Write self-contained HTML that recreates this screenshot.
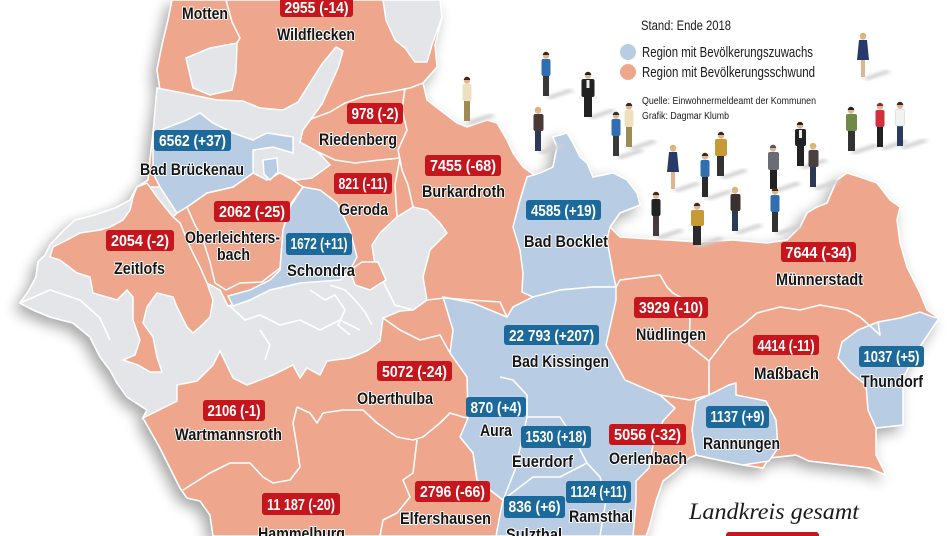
<!DOCTYPE html>
<html><head><meta charset="utf-8"><style>
html,body{margin:0;padding:0;background:#fff;}
svg{display:block;}
.n{font-family:"Liberation Sans Narrow","Liberation Sans",sans-serif;font-size:17px;font-weight:bold;fill:#151515;stroke:#fff;stroke-width:2px;paint-order:stroke;stroke-linejoin:round;}
.b{font-family:"Liberation Sans Narrow","Liberation Sans",sans-serif;font-size:15.5px;font-weight:bold;fill:#fff;}
.l{font-family:"Liberation Sans Narrow","Liberation Sans",sans-serif;fill:#1a1a1a;}
.w{fill:none;stroke:#fff;stroke-width:1.6;stroke-linejoin:round;}
</style></head><body>
<svg width="952" height="536" viewBox="0 0 952 536" xmlns="http://www.w3.org/2000/svg">
<defs>
<filter id="sh" x="-10%" y="-10%" width="120%" height="120%">
<feGaussianBlur in="SourceAlpha" stdDeviation="7"/>
<feOffset dx="-5" dy="6" result="o"/>
<feComponentTransfer><feFuncA type="linear" slope="0.35"/></feComponentTransfer>
<feMerge><feMergeNode/><feMergeNode in="SourceGraphic"/></feMerge>
</filter>
<filter id="bl"><feGaussianBlur stdDeviation="1.5"/></filter>
</defs>
<rect width="952" height="536" fill="#fff"/>

<path filter="url(#sh)" fill="#eea78d" stroke="#fff" stroke-width="1.5" d="M172,0 L440,0 L442,17 L435,45 L437,67 L423,83 L427,100 L440,110 L457,123 L467,127 L487,120 L497,123 L507,140 L513,153 L523,167 L537,177 L553,167 L557,147 L553,137 L567,133 L573,143 L580,157 L587,163 L593,177 L613,173 L627,180 L637,193 L640,205 L620,213 L610,227 L620,237 L667,240 L700,242 L733,240 L767,243 L787,240 L800,227 L807,213 L817,207 L827,203 L837,180 L847,173 L860,177 L877,183 L890,200 L900,207 L897,220 L900,243 L907,267 L920,293 L927,310 L939,318 L919,348 L903,378 L903,425 L876,428 L876,455 L886,475 L869,468 L843,465 L809,461 L796,455 L769,458 L763,468 L743,465 L709,458 L696,455 L689,458 L676,471 L663,481 L656,501 L649,528 L646,536 L213,536 L210,515 L200,501 L187,498 L180,488 L170,468 L160,448 L143,418 L147,410 L127,397 L117,383 L110,370 L100,357 L90,337 L73,323 L50,317 L33,310 L20,303 L28,292 L36,277 L38,262 L45,255 L50,245 L62,232 L75,220 L95,215 L115,208 L130,200 L137,187 L148,180 L150,160 L153,133 L157,110 L160,90 L157,70 L162,45 L168,20 Z"/>

<g fill="#e3e5e9" stroke="#fff" stroke-width="1.5">
<path d="M383,0 L440,0 L442,17 L432,45 L427,62 L415,62 L405,48 L395,40 L386,20 Z"/>
<path d="M193,88 L186,58 L210,48 L237,43 L236,72 L232,90 L210,95 Z"/>
<path d="M157,88 L183,93 L217,100 L243,101 L260,108 L283,110 L298,102 L308,86 L322,64 L336,47 L343,51 L338,68 L330,86 L322,104 L311,119 L303,130 L300,142 L318,152 L330,165 L312,178 L296,180 L280,173 L267,180 L253,173 L253,150 L273,147 L293,153 L293,137 L267,133 L253,140 L233,133 L213,123 L200,113 L187,120 L153,133 L155,110 Z"/>
<path d="M153,187 L137,187 L130,200 L115,208 L95,215 L75,220 L62,232 L50,245 L45,255 L38,262 L36,277 L28,292 L20,303 L33,310 L50,317 L73,323 L90,337 L100,357 L110,370 L117,383 L127,397 L147,410 L143,418 L177,401 L177,385 L197,381 L213,365 L220,351 L233,378 L247,385 L273,375 L293,365 L300,378 L307,368 L320,375 L327,361 L350,358 L367,351 L380,341 L383,318 L400,311 L413,310 L395,305 L385,285 L375,265 L360,265 L350,272 L335,278 L300,283 L270,290 L250,300 L228,306 L220,290 L207,283 L190,247 L180,223 L173,217 L177,213 L160,187 Z"/>
<path d="M380,233 L397,217 L413,207 L427,210 L440,223 L447,233 L430,250 L423,277 L427,300 L413,310 L395,305 L385,285 L375,265 L372,245 Z"/>
</g>

<g fill="#eea78d" stroke="#fff" stroke-width="1.5">
<path d="M137,187 L147,183 L157,197 L173,217 L180,223 L190,247 L200,267 L207,283 L213,300 L210,317 L200,327 L193,333 L187,327 L177,307 L173,297 L157,293 L147,307 L143,323 L153,337 L157,357 L162,372 L150,372 L138,365 L123,360 L135,355 L140,340 L133,320 L133,297 L127,290 L117,300 L93,293 L90,277 L77,273 L60,260 L50,257 L53,247 L67,240 L80,233 L100,230 L110,227 L123,220 L130,210 L133,197 Z"/>
<path d="M187,207 L207,193 L233,187 L253,173 L267,180 L280,173 L293,180 L303,187 L290,205 L283,230 L280,268 L262,282 L240,283 L226,290 L215,283 L210,262 L203,240 L195,225 Z"/>
<path d="M350,270 L362,262 L378,262 L386,280 L370,290 L355,285 Z"/>
</g>

<g fill="#b8cce3" stroke="#fff" stroke-width="1.5">
<path d="M153,133 L187,120 L200,113 L213,123 L233,133 L253,140 L267,133 L293,137 L293,153 L273,147 L253,150 L253,173 L233,187 L207,193 L187,207 L177,213 L160,187 L153,173 Z"/>
<path d="M263,160 L277,158 L278,172 L270,180 L264,174 Z"/>
<path d="M303,187 L320,190 L337,203 L350,230 L357,257 L350,270 L340,280 L300,283 L270,290 L250,300 L233,306 L228,296 L250,290 L270,280 L280,270 L283,230 L290,207 Z"/>
<path d="M527,177 L540,173 L553,167 L557,147 L553,137 L567,133 L573,143 L580,157 L587,163 L593,177 L613,173 L627,180 L637,193 L640,205 L620,213 L610,227 L607,240 L613,273 L616,287 L593,287 L560,290 L533,297 L522,292 L523,273 L520,250 L513,227 L520,200 Z"/>
<path d="M443,297 L473,303 L507,317 L513,307 L533,297 L560,290 L593,287 L616,287 L616,300 L606,345 L625,380 L660,395 L675,408 L663,421 L653,445 L649,468 L636,481 L636,501 L633,536 L496,536 L500,515 L503,500 L477,480 L473,453 L460,437 L468,418 L467,377 L450,353 L453,330 Z"/>
<path d="M709,395 L729,385 L736,383 L736,395 L766,401 L776,420 L778,448 L769,461 L743,465 L709,458 L696,455 L692,430 L696,401 Z"/>
<path d="M939,318 L919,348 L903,378 L903,425 L876,428 L868,410 L866,385 L850,372 L838,358 L842,342 L858,330 L878,322 L900,318 L920,312 L933,317 Z"/>
</g>

<g class="w">
<polyline points="226,0 232,22 240,38 237,43"/>
<polyline points="311,119 330,112 345,103 365,96 390,92 410,88 423,83"/>
<polyline points="405,88 402,110 407,130 398,150 402,170 408,185 413,207"/>
<polyline points="318,152 335,160 355,163 380,160 400,158"/>
<polyline points="400,158 395,185 397,217"/>
<polyline points="427,300 445,298 470,300 500,302 507,317"/>
<polyline points="383,318 400,330 420,340 440,335 450,353"/>
<polyline points="297,407 293,423 297,447 300,467"/>
<polyline points="183,490 210,473 230,463 250,463 263,477 273,483 290,480 300,467"/>
<polyline points="297,407 310,413 317,423 323,413 343,410 363,410 377,423 397,437 413,440 423,437 440,423 450,413 463,417 468,418"/>
<polyline points="417,440 413,473 403,480 410,497 397,513 383,520 380,536"/>
<polyline points="460,437 473,453 477,480 503,500"/>
<polyline points="500,377 513,380 527,395 527,417 522,440 515,470 503,500"/>
<polyline points="527,417 560,417 575,440 587,463 600,477 606,500 600,536"/>
<polyline points="503,500 533,477 560,477 587,463"/>
<polyline points="616,287 620,280 643,277 660,275 667,287 673,293 685,300 690,320 689,345 709,361 709,395"/>
<polyline points="709,361 729,335 743,325 757,313 780,307 800,310 820,305 847,310 860,317 869,325 880,335 878,322"/>
<polyline points="660,395 690,400 709,395"/>
<polyline points="230,306 245,320 260,315 280,325 300,320 320,330 340,320 360,330"/>
<polyline points="20,303 50,290 80,300 100,318 110,340"/>
<polyline points="310,290 325,300 335,295 345,310 338,325 350,335"/>
<polyline points="330,285 345,290 355,300 365,312 372,325"/>
<polyline points="260,330 270,345 265,360"/>
</g>

<text class="l" x="641" y="30" font-size="13.5" textLength="90" lengthAdjust="spacingAndGlyphs">Stand: Ende 2018</text>
<circle cx="628" cy="52" r="8" fill="#b8cce3"/>
<circle cx="628" cy="72" r="8" fill="#eea78d"/>
<text class="l" x="642" y="57" font-size="14.5" textLength="171" lengthAdjust="spacingAndGlyphs">Region mit Bevölkerungszuwachs</text>
<text class="l" x="642" y="77" font-size="14.5" textLength="173" lengthAdjust="spacingAndGlyphs">Region mit Bevölkerungsschwund</text>
<text class="l" x="642" y="104" font-size="10" textLength="174" lengthAdjust="spacingAndGlyphs">Quelle: Einwohnermeldeamt der Kommunen</text>
<text class="l" x="642" y="119" font-size="10" textLength="87" lengthAdjust="spacingAndGlyphs">Grafik: Dagmar Klumb</text>

<g id="people">
<g transform="translate(460,77)"><path d="M6,45 L30,37 L36,39 L12,47 Z" fill="#cfcfcf" filter="url(#bl)"/><rect x="4" y="23" width="6" height="21" fill="#9d8a55"/><rect x="2.5" y="7" width="9" height="17" rx="2" fill="#ece0c0"/><circle cx="7" cy="3.5" r="3.2" fill="#e2b48e"/><path d="M3.8,3 a3.2,3.2 0 0 1 6.4,0z" fill="#3a2a20"/></g>
<g transform="translate(539,52)"><path d="M6,45 L30,37 L36,39 L12,47 Z" fill="#cfcfcf" filter="url(#bl)"/><rect x="4" y="23" width="6" height="21" fill="#383838"/><rect x="2.5" y="7" width="9" height="17" rx="2" fill="#2f6eb0"/><circle cx="7" cy="3.5" r="3.2" fill="#e2b48e"/><path d="M3.8,3 a3.2,3.2 0 0 1 6.4,0z" fill="#3a2a20"/></g>
<g transform="translate(579,72)"><path d="M8,45 L32,37 L38,39 L14,47 Z" fill="#cfcfcf" filter="url(#bl)"/><rect x="5" y="23" width="8" height="22" fill="#222"/><rect x="2.5" y="7" width="13" height="18" rx="2" fill="#222"/><rect x="7.5" y="8" width="3" height="8" fill="#eee"/><circle cx="9" cy="3.5" r="3.2" fill="#e2b48e"/><path d="M5.8,3 a3.2,3.2 0 0 1 6.4,0z" fill="#222"/></g>
<g transform="translate(531,107)"><path d="M6,45 L30,37 L36,39 L12,47 Z" fill="#cfcfcf" filter="url(#bl)"/><rect x="4" y="23" width="6" height="21" fill="#2d3a55"/><rect x="2.5" y="7" width="10" height="17" rx="2" fill="#4a3a35"/><circle cx="7" cy="3.5" r="3.2" fill="#e2b48e"/><path d="M3.8,3 a3.2,3.2 0 0 1 6.4,0z" fill="#d9b56a"/></g>
<g transform="translate(609,112)"><path d="M6,45 L30,37 L36,39 L12,47 Z" fill="#cfcfcf" filter="url(#bl)"/><rect x="4" y="23" width="6" height="21" fill="#3a3a3a"/><rect x="2.5" y="7" width="9" height="17" rx="2" fill="#2f6eb0"/><circle cx="7" cy="3.5" r="3.2" fill="#e2b48e"/><path d="M3.8,3 a3.2,3.2 0 0 1 6.4,0z" fill="#3a2a20"/></g>
<g transform="translate(622,103)"><path d="M6,45 L30,37 L36,39 L12,47 Z" fill="#cfcfcf" filter="url(#bl)"/><rect x="4" y="23" width="6" height="21" fill="#9d8a55"/><rect x="2.5" y="7" width="9" height="17" rx="2" fill="#ece0c0"/><circle cx="7" cy="3.5" r="3.2" fill="#e2b48e"/><path d="M3.8,3 a3.2,3.2 0 0 1 6.4,0z" fill="#3a2a20"/></g>
<g transform="translate(856,33)"><path d="M6,45 L30,37 L36,39 L12,47 Z" fill="#cfcfcf" filter="url(#bl)"/><rect x="5" y="26" width="4" height="18" fill="#e2b48e"/><path d="M3,7 L11,7 L13,27 L1,27 Z" fill="#283a6a"/><circle cx="7" cy="3.5" r="3.2" fill="#e2b48e"/><path d="M3.8,3 a3.2,3.2 0 0 1 6.4,0z" fill="#d9b56a"/></g>
<g transform="translate(844,107)"><path d="M6,45 L30,37 L36,39 L12,47 Z" fill="#cfcfcf" filter="url(#bl)"/><rect x="4" y="23" width="7" height="21" fill="#333"/><rect x="2" y="7" width="11" height="17" rx="2" fill="#6d8b45"/><circle cx="7" cy="3.5" r="3.2" fill="#e2b48e"/><path d="M3.8,3 a3.2,3.2 0 0 1 6.4,0z" fill="#222"/></g>
<g transform="translate(873,103)"><path d="M6,45 L30,37 L36,39 L12,47 Z" fill="#cfcfcf" filter="url(#bl)"/><rect x="4" y="23" width="6" height="21" fill="#222"/><rect x="2.5" y="7" width="9" height="17" rx="2" fill="#d03040"/><circle cx="7" cy="3.5" r="3.2" fill="#e2b48e"/><path d="M3.8,3 a3.2,3.2 0 0 1 6.4,0z" fill="#7a3a20"/></g>
<g transform="translate(893,102)"><path d="M6,45 L30,37 L36,39 L12,47 Z" fill="#cfcfcf" filter="url(#bl)"/><rect x="4" y="23" width="6" height="21" fill="#2c3c60"/><rect x="2.5" y="7" width="9" height="17" rx="2" fill="#f2f2f2" stroke="#ccc" stroke-width=".5"/><circle cx="7" cy="3.5" r="3.2" fill="#e2b48e"/><path d="M3.8,3 a3.2,3.2 0 0 1 6.4,0z" fill="#3a2a20"/></g>
<g transform="translate(666,145)"><path d="M6,45 L30,37 L36,39 L12,47 Z" fill="#cfcfcf" filter="url(#bl)"/><rect x="5" y="26" width="4" height="18" fill="#e2b48e"/><path d="M3,7 L11,7 L13,27 L1,27 Z" fill="#283a6a"/><circle cx="7" cy="3.5" r="3.2" fill="#e2b48e"/><path d="M3.8,3 a3.2,3.2 0 0 1 6.4,0z" fill="#d9b56a"/></g>
<g transform="translate(698,153)"><path d="M6,45 L30,37 L36,39 L12,47 Z" fill="#cfcfcf" filter="url(#bl)"/><rect x="4" y="23" width="6" height="21" fill="#2a2a2a"/><rect x="2.5" y="7" width="9" height="17" rx="2" fill="#2f6eb0"/><circle cx="7" cy="3.5" r="3.2" fill="#e2b48e"/><path d="M3.8,3 a3.2,3.2 0 0 1 6.4,0z" fill="#3a2a20"/></g>
<g transform="translate(713,132)"><path d="M6,45 L30,37 L36,39 L12,47 Z" fill="#cfcfcf" filter="url(#bl)"/><rect x="4" y="23" width="7" height="21" fill="#333"/><rect x="2" y="7" width="12" height="17" rx="2" fill="#c89a35"/><circle cx="8" cy="3.5" r="3.2" fill="#e2b48e"/><path d="M4.8,3 a3.2,3.2 0 0 1 6.4,0z" fill="#3a2a20"/></g>
<g transform="translate(766,145)"><path d="M6,45 L30,37 L36,39 L12,47 Z" fill="#cfcfcf" filter="url(#bl)"/><rect x="4" y="23" width="7" height="21" fill="#222"/><rect x="2" y="7" width="11" height="18" rx="2" fill="#6a6e74"/><circle cx="7" cy="3.5" r="3.2" fill="#e2b48e"/><path d="M3.8,3 a3.2,3.2 0 0 1 6.4,0z" fill="#555"/></g>
<g transform="translate(793,122)"><path d="M6,45 L30,37 L36,39 L12,47 Z" fill="#cfcfcf" filter="url(#bl)"/><rect x="4" y="23" width="7" height="21" fill="#222"/><rect x="2" y="7" width="11" height="17" rx="2" fill="#222"/><rect x="6" y="8" width="3" height="8" fill="#eee"/><circle cx="7" cy="3.5" r="3.2" fill="#e2b48e"/><path d="M3.8,3 a3.2,3.2 0 0 1 6.4,0z" fill="#222"/></g>
<g transform="translate(806,143)"><path d="M6,45 L30,37 L36,39 L12,47 Z" fill="#cfcfcf" filter="url(#bl)"/><rect x="4" y="23" width="6" height="21" fill="#2d3a55"/><rect x="2.5" y="7" width="10" height="17" rx="2" fill="#4a4040"/><circle cx="7" cy="3.5" r="3.2" fill="#e2b48e"/><path d="M3.8,3 a3.2,3.2 0 0 1 6.4,0z" fill="#d9b56a"/></g>
<g transform="translate(649,192)"><path d="M6,45 L30,37 L36,39 L12,47 Z" fill="#cfcfcf" filter="url(#bl)"/><rect x="4" y="23" width="6" height="21" fill="#4a3a40"/><rect x="2.5" y="7" width="9" height="17" rx="2" fill="#222"/><circle cx="7" cy="3.5" r="3.2" fill="#e2b48e"/><path d="M3.8,3 a3.2,3.2 0 0 1 6.4,0z" fill="#3a2a20"/></g>
<g transform="translate(689,203)"><path d="M6,42 L30,34 L36,36 L12,44 Z" fill="#cfcfcf" filter="url(#bl)"/><rect x="4" y="22" width="8" height="20" fill="#2a2a2a"/><rect x="2" y="7" width="13" height="16" rx="2" fill="#c89a35"/><circle cx="8" cy="3.5" r="3.2" fill="#e2b48e"/><path d="M4.8,3 a3.2,3.2 0 0 1 6.4,0z" fill="#3a2a20"/></g>
<g transform="translate(728,187)"><path d="M6,45 L30,37 L36,39 L12,47 Z" fill="#cfcfcf" filter="url(#bl)"/><rect x="4" y="23" width="6" height="21" fill="#2d3a55"/><rect x="2.5" y="7" width="10" height="17" rx="2" fill="#3a3030"/><circle cx="7" cy="3.5" r="3.2" fill="#e2b48e"/><path d="M3.8,3 a3.2,3.2 0 0 1 6.4,0z" fill="#d9b56a"/></g>
<g transform="translate(768,188)"><path d="M6,45 L30,37 L36,39 L12,47 Z" fill="#cfcfcf" filter="url(#bl)"/><rect x="4" y="23" width="6" height="21" fill="#333"/><rect x="2.5" y="7" width="9" height="17" rx="2" fill="#2f6eb0"/><circle cx="7" cy="3.5" r="3.2" fill="#e2b48e"/><path d="M3.8,3 a3.2,3.2 0 0 1 6.4,0z" fill="#3a2a20"/></g>
</g>

<g fill="#c5161d">
<rect x="280" y="-4" width="73" height="21" rx="3"/>
<rect x="347" y="103" width="56" height="21" rx="3"/>
<rect x="425" y="155" width="76" height="21" rx="3"/>
<rect x="334" y="173" width="58" height="21" rx="3"/>
<rect x="214" y="201" width="76" height="21" rx="3"/>
<rect x="106" y="230" width="68" height="21" rx="3"/>
<rect x="781" y="242" width="75" height="20" rx="3"/>
<rect x="634" y="297" width="74" height="21" rx="3"/>
<rect x="753" y="335" width="66" height="20" rx="3"/>
<rect x="377" y="361" width="75" height="20" rx="3"/>
<rect x="203" y="400" width="62" height="21" rx="3"/>
<rect x="609" y="424" width="77" height="21" rx="3"/>
<rect x="415" y="481" width="75" height="21" rx="3"/>
<rect x="262" y="493" width="78" height="22" rx="3"/>
<rect x="726" y="532" width="93" height="12" rx="3"/>
</g>
<g fill="#1c6a9b">
<rect x="154" y="130" width="77" height="21" rx="3"/>
<rect x="286" y="233" width="66" height="22" rx="3"/>
<rect x="526" y="200" width="75" height="20" rx="3"/>
<rect x="504" y="325" width="95" height="20" rx="3"/>
<rect x="859" y="346" width="65" height="21" rx="3"/>
<rect x="466" y="397" width="60" height="20" rx="3"/>
<rect x="521" y="426" width="70" height="22" rx="3"/>
<rect x="706" y="406" width="63" height="22" rx="3"/>
<rect x="566" y="481" width="65" height="22" rx="3"/>
<rect x="504" y="496" width="61" height="22" rx="3"/>
</g>
<g class="b" text-anchor="middle">
<text x="316.5" y="13" textLength="64" lengthAdjust="spacingAndGlyphs">2955 (-14)</text>
<text x="375" y="119" textLength="47" lengthAdjust="spacingAndGlyphs">978 (-2)</text>
<text x="463" y="171" textLength="66" lengthAdjust="spacingAndGlyphs">7455 (-68)</text>
<text x="363" y="189" textLength="49" lengthAdjust="spacingAndGlyphs">821 (-11)</text>
<text x="252" y="217" textLength="66" lengthAdjust="spacingAndGlyphs">2062 (-25)</text>
<text x="140" y="246" textLength="58" lengthAdjust="spacingAndGlyphs">2054 (-2)</text>
<text x="818.5" y="258" textLength="66" lengthAdjust="spacingAndGlyphs">7644 (-34)</text>
<text x="671" y="313" textLength="64" lengthAdjust="spacingAndGlyphs">3929 (-10)</text>
<text x="786" y="351" textLength="57" lengthAdjust="spacingAndGlyphs">4414 (-11)</text>
<text x="414.5" y="377" textLength="65" lengthAdjust="spacingAndGlyphs">5072 (-24)</text>
<text x="234" y="416" textLength="53" lengthAdjust="spacingAndGlyphs">2106 (-1)</text>
<text x="647.5" y="440" textLength="67" lengthAdjust="spacingAndGlyphs">5056 (-32)</text>
<text x="452.5" y="497" textLength="65" lengthAdjust="spacingAndGlyphs">2796 (-66)</text>
<text x="301" y="510" textLength="68" lengthAdjust="spacingAndGlyphs">11 187 (-20)</text>
<text x="192.5" y="146" textLength="67" lengthAdjust="spacingAndGlyphs">6562 (+37)</text>
<text x="319" y="249" textLength="57" lengthAdjust="spacingAndGlyphs">1672 (+11)</text>
<text x="563.5" y="216" textLength="65" lengthAdjust="spacingAndGlyphs">4585 (+19)</text>
<text x="551.5" y="341" textLength="85" lengthAdjust="spacingAndGlyphs">22 793 (+207)</text>
<text x="891.5" y="362" textLength="56" lengthAdjust="spacingAndGlyphs">1037 (+5)</text>
<text x="496" y="413" textLength="51" lengthAdjust="spacingAndGlyphs">870 (+4)</text>
<text x="556" y="442" textLength="61" lengthAdjust="spacingAndGlyphs">1530 (+18)</text>
<text x="737.5" y="422" textLength="54" lengthAdjust="spacingAndGlyphs">1137 (+9)</text>
<text x="598.5" y="497" textLength="56" lengthAdjust="spacingAndGlyphs">1124 (+11)</text>
<text x="534.5" y="512" textLength="52" lengthAdjust="spacingAndGlyphs">836 (+6)</text>
</g>

<g class="n">
<text x="182" y="19" textLength="46" lengthAdjust="spacingAndGlyphs">Motten</text>
<text x="277" y="40" textLength="78" lengthAdjust="spacingAndGlyphs">Wildflecken</text>
<text x="319" y="145" textLength="78" lengthAdjust="spacingAndGlyphs">Riedenberg</text>
<text x="140" y="175" textLength="104" lengthAdjust="spacingAndGlyphs">Bad Brückenau</text>
<text x="422" y="197" textLength="83" lengthAdjust="spacingAndGlyphs">Burkardroth</text>
<text x="339" y="215" textLength="49" lengthAdjust="spacingAndGlyphs">Geroda</text>
<text x="185" y="243" textLength="95" lengthAdjust="spacingAndGlyphs">Oberleichters-</text>
<text x="217" y="260" textLength="33" lengthAdjust="spacingAndGlyphs">bach</text>
<text x="287" y="276" textLength="68" lengthAdjust="spacingAndGlyphs">Schondra</text>
<text x="114" y="274" textLength="51" lengthAdjust="spacingAndGlyphs">Zeitlofs</text>
<text x="524" y="247" textLength="84" lengthAdjust="spacingAndGlyphs">Bad Bocklet</text>
<text x="776" y="285" textLength="87" lengthAdjust="spacingAndGlyphs">Münnerstadt</text>
<text x="636" y="340" textLength="70" lengthAdjust="spacingAndGlyphs">Nüdlingen</text>
<text x="512" y="367" textLength="97" lengthAdjust="spacingAndGlyphs">Bad Kissingen</text>
<text x="754" y="379" textLength="65" lengthAdjust="spacingAndGlyphs">Maßbach</text>
<text x="861" y="387" textLength="62" lengthAdjust="spacingAndGlyphs">Thundorf</text>
<text x="357" y="404" textLength="76" lengthAdjust="spacingAndGlyphs">Oberthulba</text>
<text x="480" y="436" textLength="32" lengthAdjust="spacingAndGlyphs">Aura</text>
<text x="175" y="440" textLength="107" lengthAdjust="spacingAndGlyphs">Wartmannsroth</text>
<text x="703" y="449" textLength="77" lengthAdjust="spacingAndGlyphs">Rannungen</text>
<text x="512" y="467" textLength="61" lengthAdjust="spacingAndGlyphs">Euerdorf</text>
<text x="609" y="464" textLength="78" lengthAdjust="spacingAndGlyphs">Oerlenbach</text>
<text x="569" y="522" textLength="64" lengthAdjust="spacingAndGlyphs">Ramsthal</text>
<text x="400" y="524" textLength="91" lengthAdjust="spacingAndGlyphs">Elfershausen</text>
<text x="258" y="539" textLength="87" lengthAdjust="spacingAndGlyphs">Hammelburg</text>
<text x="506" y="540" textLength="56" lengthAdjust="spacingAndGlyphs">Sulzthal</text>
</g>

<text x="689" y="519" font-family="'Liberation Serif',serif" font-style="italic" font-size="23" fill="#1a1a1a" textLength="170" lengthAdjust="spacingAndGlyphs">Landkreis gesamt</text>
</svg>
</body></html>
